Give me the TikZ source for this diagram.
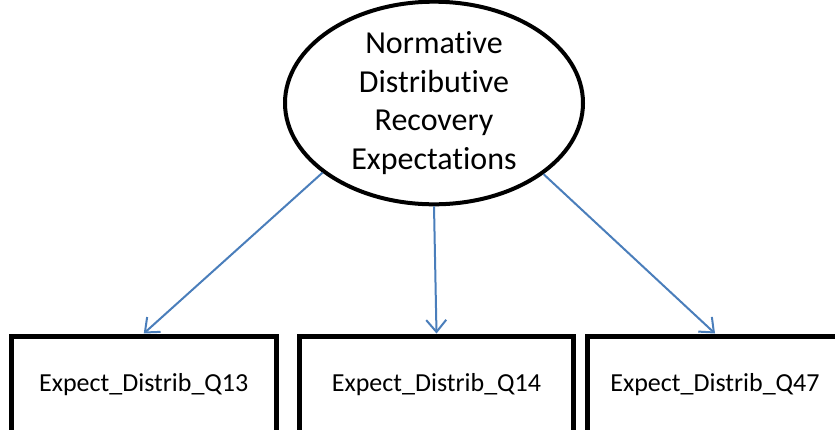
\documentclass[tikz,border=0pt]{standalone}
\usepackage{fontspec}
\setmainfont[Ligatures={NoCommon}]{Carlito}
\usepackage{tikz}
\usetikzlibrary{shapes,positioning,arrows.meta}
\definecolor{pathblue}{RGB}{74,126,187}

\begin{document}
\begin{tikzpicture}[x=1pt,y=-1pt,
    latent/.style={ellipse,draw,line width=4pt,minimum width=298pt,minimum height=187pt,inner sep=0pt,align=center,font=\fontsize{32}{38.7}\selectfont},
    item/.style={rectangle,draw,line width=5pt,minimum height=98pt,inner sep=0pt,font=\fontsize{26}{31}\selectfont},
    load/.style={draw=pathblue,line width=2pt,-{Straight Barb[length=12pt,width=20pt]}}]
    \useasboundingbox (0,0) rectangle (835,429);
    \clip (0,0) rectangle (835,429);
    \node[latent] (ndre) at (434,103) {Normative\\Distributive\\Recovery\\Expectations};
    \foreach \x/\w/\q in {143.75/265.5/13,436.5/274/14,715/255/47}{
      \node[item,minimum width=\w pt] (q\q) at (\x,385) {Expect\_Distrib\_Q\q};
    }
    \draw[load] (ndre.212) -- (q13.north);
    \draw[load] (ndre.south) -- (q14.north);
    \draw[load] (ndre.327) -- (q47.north);
  \end{tikzpicture}
\end{document}
